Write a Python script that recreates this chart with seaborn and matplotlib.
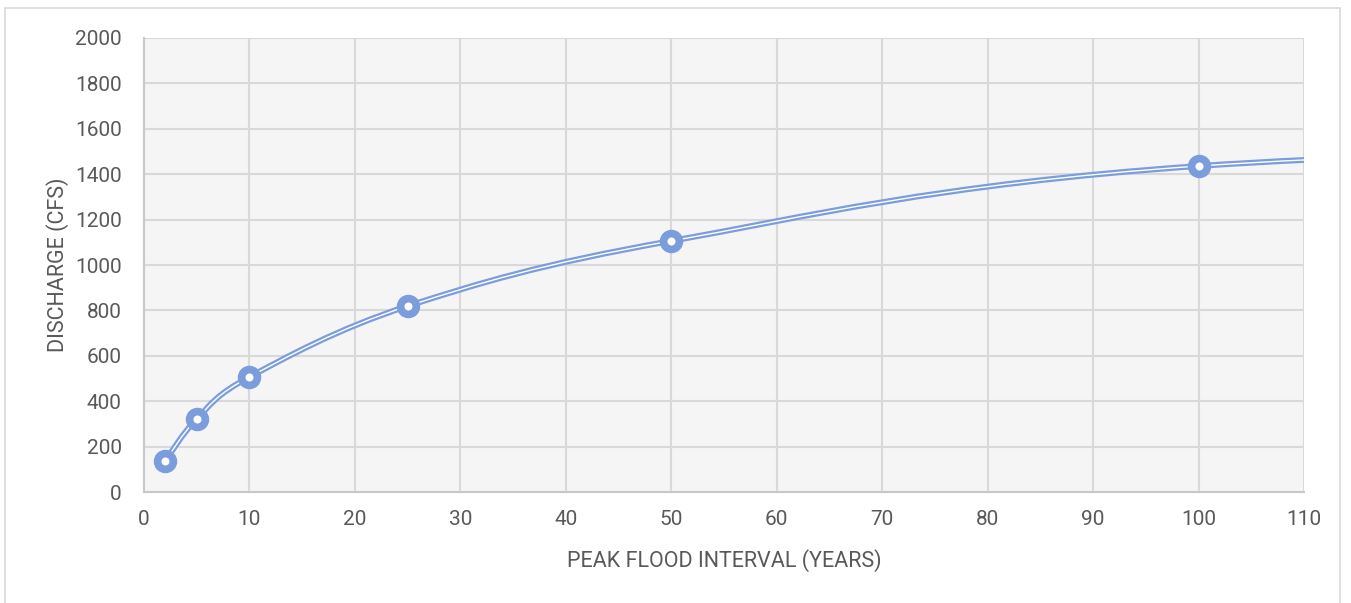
import matplotlib
matplotlib.use("Agg")
import matplotlib.pyplot as plt
import matplotlib.patheffects as pe
from matplotlib.patches import Rectangle, PathPatch
from matplotlib.path import Path
import pandas as pd
import seaborn as sns

# values (the 200-year point lies off the x range,
# only the line heading towards it is visible past 100)
interval_years = [2, 5, 10, 25, 50, 100, 200]
discharge_cfs = [137, 322, 507, 819, 1106, 1436, 1590]

x_ticks = list(range(0, 111, 10))
y_ticks = list(range(0, 2001, 200))

blue = "#7b9ddc"
grid_grey = "#d9d9d9"
text_grey = "#595959"

df = pd.DataFrame({"interval": interval_years, "discharge": discharge_cfs})

sns.set_theme(style="whitegrid")
plt.rcParams["font.family"] = ["Roboto", "DejaVu Sans"]

fig = plt.figure(figsize=(13.51, 6.03), dpi=100)
ax = fig.add_axes([0.1066, 0.184, 0.8586, 0.753])
ax.set_facecolor("#f5f5f5")

ax.set_xlim(0, 110)
ax.set_ylim(0, 2000)

# Excel style smoothed line: bezier segments through the points
pts = list(zip(df["interval"], df["discharge"]))
verts = [pts[0]]
codes = [Path.MOVETO]
for i in range(len(pts) - 1):
    p0 = pts[max(i - 1, 0)]
    p1 = pts[i]
    p2 = pts[i + 1]
    p3 = pts[min(i + 2, len(pts) - 1)]
    c1 = (p1[0] + (p2[0] - p0[0]) / 6, p1[1] + (p2[1] - p0[1]) / 6)
    c2 = (p2[0] - (p3[0] - p1[0]) / 6, p2[1] - (p3[1] - p1[1]) / 6)
    verts += [c1, c2, p2]
    codes += [Path.CURVE4] * 3

curve = PathPatch(Path(verts, codes), fill=False, edgecolor="white", lw=1.0, zorder=3,
                  path_effects=[pe.Stroke(linewidth=4.2, foreground=blue), pe.Normal()])
ax.add_patch(curve)

sns.scatterplot(
    data=df, x="interval", y="discharge", ax=ax, s=130, color="white",
    edgecolor=blue, linewidth=5.5, zorder=4, legend=False,
)

ax.set_xticks(x_ticks)
ax.set_yticks(y_ticks)
ax.grid(True, color=grid_grey, linewidth=1.5)
for side in ["top", "right"]:
    ax.spines[side].set_visible(False)
for side in ["left", "bottom"]:
    ax.spines[side].set_color("#c8c8c8")
    ax.spines[side].set_linewidth(1.5)

ax.tick_params(axis="x", labelsize=15, colors=text_grey, length=0, pad=13)
ax.tick_params(axis="y", labelsize=15, colors=text_grey, length=0, pad=16)
ax.set_xlabel("PEAK FLOOD INTERVAL (YEARS)", fontsize=15.5, color=text_grey, labelpad=14)
ax.set_ylabel("DISCHARGE (CFS)", fontsize=15.5, color=text_grey, labelpad=4)

# thin frame around the whole chart
fig.patches.append(Rectangle((5 / 1351, -0.01), 1335 / 1351, 1 - 8 / 603 + 0.01,
                             transform=fig.transFigure, fill=False,
                             edgecolor="#d9d9d9", linewidth=1.2))

fig.savefig("out.png", dpi=100)
